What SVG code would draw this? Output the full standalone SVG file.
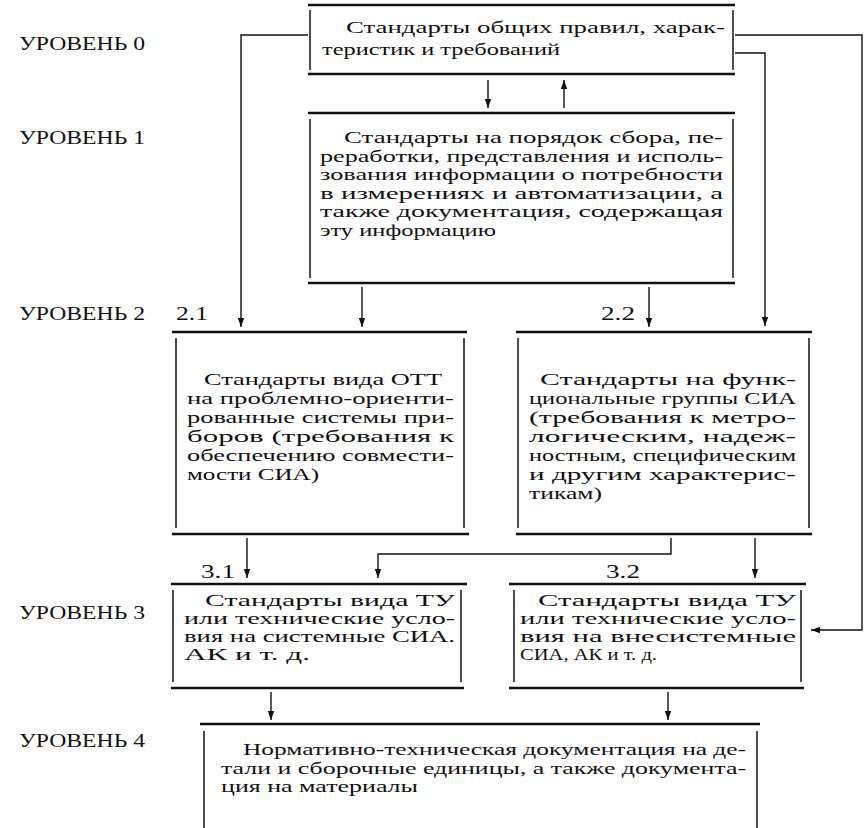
<svg xmlns="http://www.w3.org/2000/svg" width="866" height="828" viewBox="0 0 866 828">
<style>
text{font-family:"Liberation Serif","Times New Roman",serif;fill:#111;}
.t{font-size:17px;}
.lbl{font-size:19px;}
.num{font-size:19px;}
.hb{stroke:#111;stroke-width:2.4;fill:none;}
.sd{stroke:#111;stroke-width:1.5;fill:none;}
.cn{stroke:#111;stroke-width:1.4;fill:none;}
</style>
<defs>
<marker id="ah" markerWidth="10" markerHeight="8" refX="9" refY="4" orient="auto" markerUnits="userSpaceOnUse">
<path d="M0,0.8 L9,4 L0,7.2 Z" fill="#111"/>
</marker>
</defs>
<rect width="866" height="828" fill="#fff"/>

<g id="levels">
<text class="lbl" x="19" y="50" textLength="126" lengthAdjust="spacingAndGlyphs">УРОВЕНЬ 0</text>
<text class="lbl" x="19" y="144" textLength="126" lengthAdjust="spacingAndGlyphs">УРОВЕНЬ 1</text>
<text class="lbl" x="19" y="320" textLength="126" lengthAdjust="spacingAndGlyphs">УРОВЕНЬ 2</text>
<text class="lbl" x="19" y="619" textLength="126" lengthAdjust="spacingAndGlyphs">УРОВЕНЬ 3</text>
<text class="lbl" x="19" y="747" textLength="126" lengthAdjust="spacingAndGlyphs">УРОВЕНЬ 4</text>
</g>

<g id="numbers">
<text class="num" x="176" y="320" textLength="32" lengthAdjust="spacingAndGlyphs">2.1</text>
<text class="num" x="601" y="320" textLength="34" lengthAdjust="spacingAndGlyphs">2.2</text>
<text class="num" x="201" y="578" textLength="34" lengthAdjust="spacingAndGlyphs">3.1</text>
<text class="num" x="606" y="578" textLength="34" lengthAdjust="spacingAndGlyphs">3.2</text>
</g>

<g id="connectors">
<path class="cn" d="M308,35 H241 V327" marker-end="url(#ah)"/>
<path class="cn" d="M735,35 H862 V630 H811" marker-end="url(#ah)"/>
<path class="cn" d="M735,53 H765 V326" marker-end="url(#ah)"/>
<path class="cn" d="M488,80 V108" marker-end="url(#ah)"/>
<path class="cn" d="M564,108 V80" marker-end="url(#ah)"/>
<path class="cn" d="M362,287 V327" marker-end="url(#ah)"/>
<path class="cn" d="M649,287 V327" marker-end="url(#ah)"/>
<path class="cn" d="M247,538 V578" marker-end="url(#ah)"/>
<path class="cn" d="M671,538 V554 H378 V578" marker-end="url(#ah)"/>
<path class="cn" d="M755,538 V578" marker-end="url(#ah)"/>
<path class="cn" d="M271,692 V720" marker-end="url(#ah)"/>
<path class="cn" d="M668,692 V720" marker-end="url(#ah)"/>
</g>

<g id="node-l0">
<path class="hb" d="M308,5 H735 M308,74 H735"/>
<path class="sd" d="M310,10 V70 M733,10 V70"/>
<text class="t" x="346" y="33" textLength="379" lengthAdjust="spacingAndGlyphs">Стандарты общих правил, харак-</text>
<text class="t" x="322" y="55" textLength="238" lengthAdjust="spacingAndGlyphs">теристик и требований</text>
</g>

<g id="node-l1">
<path class="hb" d="M308,113 H735 M308,283 H735"/>
<path class="sd" d="M310,119 V278 M733,119 V278"/>
<text class="t" x="344" y="143" textLength="379" lengthAdjust="spacingAndGlyphs">Стандарты на порядок сбора, пе-</text>
<text class="t" x="320" y="161.5" textLength="403" lengthAdjust="spacingAndGlyphs">реработки, представления и исполь-</text>
<text class="t" x="320" y="180" textLength="403" lengthAdjust="spacingAndGlyphs">зования информации о потребности</text>
<text class="t" x="320" y="198.5" textLength="403" lengthAdjust="spacingAndGlyphs">в измерениях  и автоматизации, а</text>
<text class="t" x="320" y="217" textLength="403" lengthAdjust="spacingAndGlyphs">также документация,  содержащая</text>
<text class="t" x="320" y="235.5" textLength="176" lengthAdjust="spacingAndGlyphs">эту информацию</text>
</g>

<g id="node-l21">
<path class="hb" d="M172,332 H467 M172,534 H469"/>
<path class="sd" d="M176,338 V528 M464,338 V528"/>
<text class="t" x="204" y="385" textLength="238" lengthAdjust="spacingAndGlyphs">Стандарты вида ОТТ</text>
<text class="t" x="187" y="404" textLength="267" lengthAdjust="spacingAndGlyphs">на  проблемно-ориенти-</text>
<text class="t" x="187" y="423" textLength="267" lengthAdjust="spacingAndGlyphs">рованные системы при-</text>
<text class="t" x="187" y="442" textLength="267" lengthAdjust="spacingAndGlyphs">боров (требования к</text>
<text class="t" x="187" y="461" textLength="267" lengthAdjust="spacingAndGlyphs">обеспечению совмести-</text>
<text class="t" x="187" y="480" textLength="132" lengthAdjust="spacingAndGlyphs">мости СИА)</text>
</g>

<g id="node-l22">
<path class="hb" d="M516,332 H812 M516,534 H812"/>
<path class="sd" d="M518,338 V528 M809,338 V528"/>
<text class="t" x="540" y="385" textLength="256" lengthAdjust="spacingAndGlyphs">Стандарты на функ-</text>
<text class="t" x="529" y="404" textLength="267" lengthAdjust="spacingAndGlyphs">циональные группы СИА</text>
<text class="t" x="529" y="423" textLength="267" lengthAdjust="spacingAndGlyphs">(требования к метро-</text>
<text class="t" x="529" y="442" textLength="267" lengthAdjust="spacingAndGlyphs">логическим, надеж-</text>
<text class="t" x="529" y="461" textLength="267" lengthAdjust="spacingAndGlyphs">ностным, специфическим</text>
<text class="t" x="529" y="480" textLength="267" lengthAdjust="spacingAndGlyphs">и другим характерис-</text>
<text class="t" x="529" y="499" textLength="73" lengthAdjust="spacingAndGlyphs">тикам)</text>
</g>

<g id="node-l31">
<path class="hb" d="M171,584 H467 M171,688 H464"/>
<path class="sd" d="M173,590 V682 M461,590 V682"/>
<text class="t" x="205" y="606" textLength="250" lengthAdjust="spacingAndGlyphs">Стандарты вида ТУ</text>
<text class="t" x="184" y="624" textLength="271" lengthAdjust="spacingAndGlyphs">или технические усло-</text>
<text class="t" x="184" y="642" textLength="271" lengthAdjust="spacingAndGlyphs">вия на системные СИА.</text>
<text class="t" x="184" y="660" textLength="126" lengthAdjust="spacingAndGlyphs">АК и т. д.</text>
</g>

<g id="node-l32">
<path class="hb" d="M509,584 H806 M509,688 H804"/>
<path class="sd" d="M514,590 V682 M801,590 V682"/>
<text class="t" x="538" y="606" textLength="258" lengthAdjust="spacingAndGlyphs">Стандарты вида ТУ</text>
<text class="t" x="520" y="624" textLength="276" lengthAdjust="spacingAndGlyphs">или технические усло-</text>
<text class="t" x="520" y="642" textLength="276" lengthAdjust="spacingAndGlyphs">вия на внесистемные</text>
<text class="t" x="520" y="660" textLength="137" lengthAdjust="spacingAndGlyphs">СИА, АК и т. д.</text>
</g>

<g id="node-l4">
<path class="hb" d="M200,724 H760"/>
<path class="sd" d="M204,731 V828 M757,731 V828"/>
<text class="t" x="243" y="755" textLength="503" lengthAdjust="spacingAndGlyphs">Нормативно-техническая документация на де-</text>
<text class="t" x="221" y="773.5" textLength="525" lengthAdjust="spacingAndGlyphs">тали и сборочные единицы, а также документа-</text>
<text class="t" x="221" y="792" textLength="197" lengthAdjust="spacingAndGlyphs">ция на материалы</text>
</g>
</svg>
